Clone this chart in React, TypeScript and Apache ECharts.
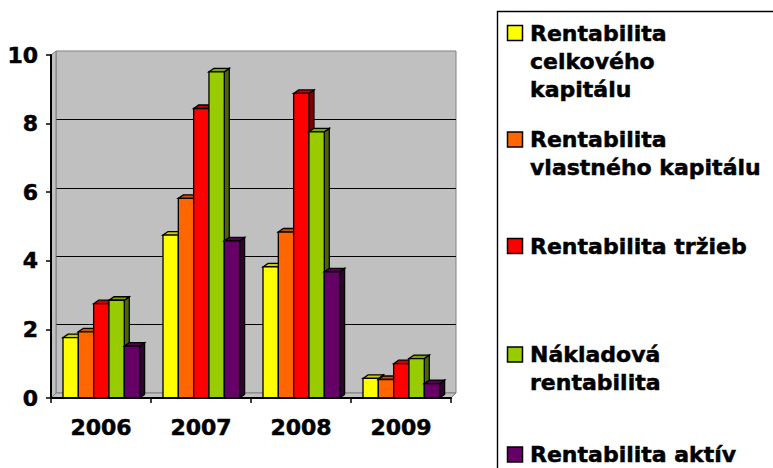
import React, { useEffect, useRef } from "react";
import * as echarts from "echarts";

const years = ["2006", "2007", "2008", "2009"];
const seriesNames = [
  "Rentabilita celkového kapitálu",
  "Rentabilita vlastného kapitálu",
  "Rentabilita tržieb",
  "Nákladová rentabilita",
  "Rentabilita aktív",
];
const legendLabels = [
  "Rentabilita\ncelkového\nkapitálu",
  "Rentabilita\nvlastného kapitálu",
  "Rentabilita tržieb",
  "Nákladová\nrentabilita",
  "Rentabilita aktív",
];
const celkovy = [1.76, 4.75, 3.82, 0.57];
const vlastny = [1.93, 5.82, 4.84, 0.54];
const trzby = [2.75, 8.44, 8.88, 1.0];
const nakladova = [2.85, 9.51, 7.76, 1.15];
const aktiva = [1.51, 4.58, 3.68, 0.42];
const seriesValues = [celkovy, vlastny, trzby, nakladova, aktiva];
const yTicks = { min: 0, max: 10, interval: 2 };

const frontColors = ["#FFFF00", "#FF6600", "#FF0000", "#99CC00", "#660066"];
const topColors = ["#CCCC00", "#CC5200", "#CC0000", "#7AA300", "#520052"];
const sideColors = ["#999900", "#993D00", "#800000", "#4D6600", "#330033"];

const FONT = '"DejaVu Sans", "Liberation Sans", Arial, sans-serif';
const DX = 5;
const DY = 3.5;
const GROUP_RATIO = 0.766;

// layout constants
const FRONT = { left: 51, right: 322, top: 55, bottom: 70 };
const BACK = { left: 56, right: 317, top: 51, bottom: 75 };
const W = 773;
const H = 468;

export default function App() {
  const ref = useRef<HTMLDivElement>(null);
  useEffect(() => {
    document.body.style.margin = "0";
    const chart = echarts.init(ref.current!, null, { renderer: "svg" });

    const fx0 = FRONT.left, fx1 = W - FRONT.right, fy0 = FRONT.top, fy1 = H - FRONT.bottom;
    const bx0 = BACK.left, bx1 = W - BACK.right, by0 = BACK.top, by1 = H - BACK.bottom;

    const legendTops = [25, 131.5, 238, 346.5, 446.5];
    const legendGraphics: any[] = [
      {
        type: "rect",
        shape: { x: 497.5, y: 11.5, width: 320, height: 480 },
        style: { fill: "none", stroke: "#000", lineWidth: 1.4 },
        z: 5,
      },
    ];
    legendLabels.forEach((lab, i) => {
      legendGraphics.push({
        type: "rect",
        shape: { x: 507.5, y: legendTops[i] + 0.5, width: 15, height: 15 },
        style: { fill: frontColors[i], stroke: "#000", lineWidth: 1.5 },
        z: 5,
      });
      legendGraphics.push({
        type: "text",
        x: 530,
        y: legendTops[i] - 5.6,
        style: {
          text: lab,
          font: `bold 22px ${FONT}`,
          fill: "#000",
          stroke: "#000",
          lineWidth: 0.5,
          lineHeight: 28,
          verticalAlign: "top",
          align: "left",
        },
        z: 5,
      });
    });

    const wallGraphics: any[] = [
      {
        type: "polygon",
        shape: { points: [[fx0, fy0], [bx0, by0], [bx0, by1], [fx0, fy1]] },
        style: { fill: "#C0C0C0", stroke: "#808080", lineWidth: 1 },
        z: 1,
      },
      {
        type: "polygon",
        shape: { points: [[fx0, fy1], [bx0, by1], [bx1, by1], [fx1, fy1]] },
        style: { fill: "#C0C0C0", stroke: "#808080", lineWidth: 1 },
        z: 1,
      },
    ];

    const renderBar = (params: any, api: any) => {
      const idx = params.seriesIndex;
      const cat = api.value(0);
      const val = api.value(1);
      const base = api.coord([cat, 0]);
      const top = api.coord([cat, val]);
      const catW = api.size([1, 0])[0];
      const groupW = catW * GROUP_RATIO;
      const bw = groupW / 5;
      const x0 = base[0] - groupW / 2 + idx * bw + 0.3;
      const x1 = x0 + bw;
      const yT = top[1];
      const yB = base[1];
      const st = { stroke: "#000", lineWidth: 1.3, lineJoin: "miter" };
      return {
        type: "group",
        children: [
          {
            type: "polygon",
            shape: { points: [[x1, yT], [x1 + DX, yT - DY], [x1 + DX, yB - DY], [x1, yB]] },
            style: { fill: sideColors[idx], ...st },
          },
          {
            type: "polygon",
            shape: { points: [[x0, yT], [x0 + DX, yT - DY], [x1 + DX, yT - DY], [x1, yT]] },
            style: { fill: topColors[idx], ...st },
          },
          {
            type: "rect",
            shape: { x: x0, y: yT, width: bw, height: yB - yT },
            style: { fill: frontColors[idx], ...st },
          },
        ],
      };
    };

    const axisLabelStyle = {
      fontFamily: FONT,
      fontWeight: "bold" as const,
      fontSize: 22,
      color: "#000",
      textBorderColor: "#000",
      textBorderWidth: 0.5,
    };

    chart.setOption({
      animation: false,
      grid: [
        { ...FRONT, containLabel: false },
        {
          ...BACK,
          containLabel: false,
          show: true,
          backgroundColor: "#C0C0C0",
          borderColor: "#808080",
          borderWidth: 1,
          z: 0,
        },
      ],
      xAxis: [
        {
          type: "category",
          gridIndex: 0,
          data: years,
          z: 4,
          axisLine: { show: true, lineStyle: { color: "#000", width: 2 } },
          axisTick: { show: true, length: 5, interval: 0, lineStyle: { color: "#000", width: 1.5 } },
          axisLabel: { ...axisLabelStyle, margin: 18, interval: 0 },
          splitLine: { show: false },
        },
        {
          type: "category",
          gridIndex: 1,
          data: years,
          show: false,
        },
      ],
      yAxis: [
        {
          type: "value",
          gridIndex: 0,
          ...yTicks,
          z: 4,
          axisLine: { show: true, lineStyle: { color: "#000", width: 2 } },
          axisTick: { show: true, length: 5, lineStyle: { color: "#000", width: 1.5 } },
          axisLabel: { ...axisLabelStyle, margin: 13 },
          splitLine: { show: false },
        },
        {
          type: "value",
          gridIndex: 1,
          ...yTicks,
          z: 0,
          axisLine: { show: false },
          axisTick: { show: false },
          axisLabel: { show: false },
          splitLine: { show: true, showMinLine: false, showMaxLine: false, lineStyle: { color: "#000", width: 1.2 } },
        },
      ],
      graphic: [...wallGraphics, ...legendGraphics],
      series: seriesValues.map((vals, i) => ({
        type: "custom",
        name: seriesNames[i],
        coordinateSystem: "cartesian2d",
        xAxisIndex: 0,
        yAxisIndex: 0,
        z: 2,
        renderItem: renderBar,
        data: vals.map((v, j) => [j, v]),
      })),
    });
    return () => chart.dispose();
  }, []);
  return <div ref={ref} style={{ width: W, height: H, position: "absolute", left: 0, top: 0 }} />;
}
